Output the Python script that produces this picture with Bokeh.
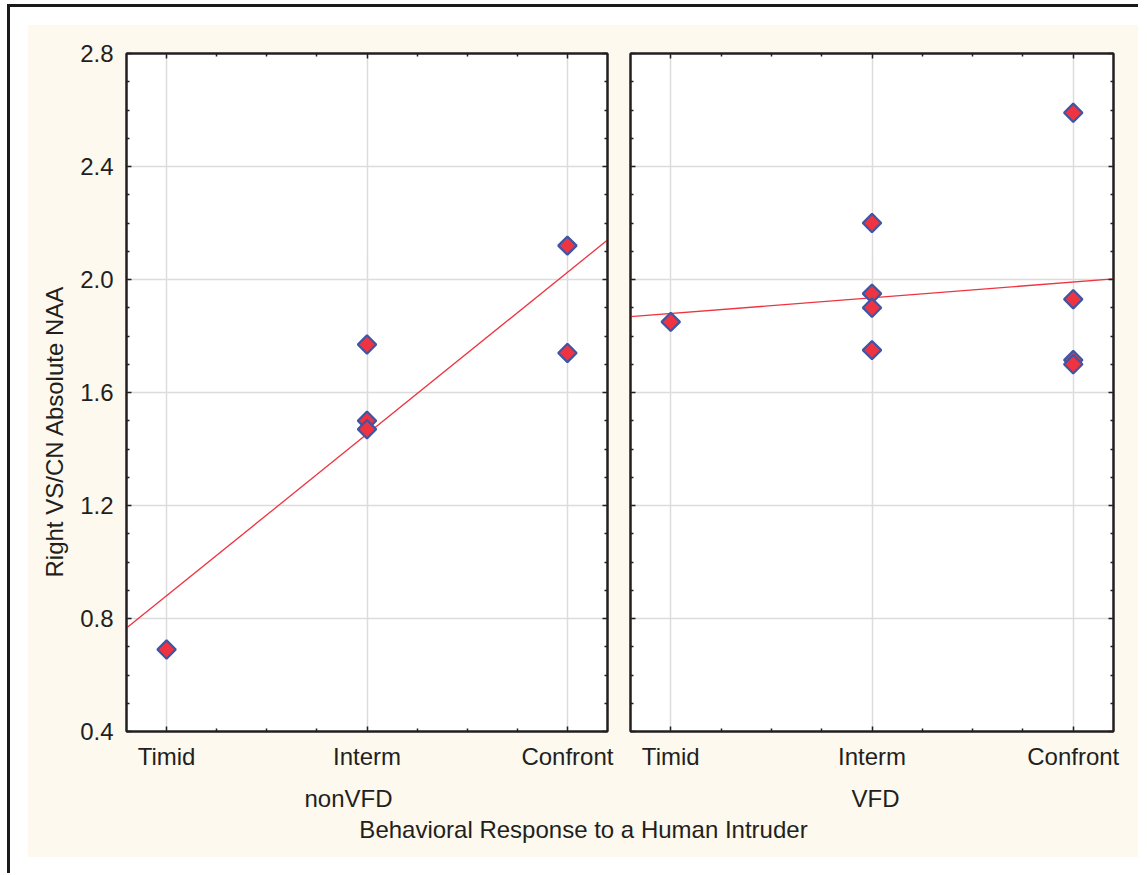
import numpy as np
from bokeh.plotting import figure
from bokeh.models import (FixedTicker, LinearAxis, Title, Range1d, CustomJSTickFormatter,
                          PrintfTickFormatter, Spacer)
from bokeh.layouts import row, column
from bokeh.embed import file_html
from bokeh.resources import INLINE

# ---------------- data ----------------
categories = ["Timid", "Interm", "Confront"]
nonvfd_x = ["Timid", "Interm", "Interm", "Interm", "Confront", "Confront"]
nonvfd_y = [0.69, 1.77, 1.50, 1.47, 2.12, 1.74]
vfd_x = ["Timid", "Interm", "Interm", "Interm", "Interm",
         "Confront", "Confront", "Confront", "Confront"]
vfd_y = [1.85, 2.20, 1.95, 1.90, 1.75, 2.59, 1.93, 1.715, 1.70]
y_ticks = [0.4, 0.8, 1.2, 1.6, 2.0, 2.4, 2.8]
group_labels = ["nonVFD", "VFD"]
x_title = "Behavioral Response to a Human Intruder"
y_title = "Right VS/CN Absolute NAA"

# ---------------- style ----------------
FONT = "Liberation Sans"
FS = "24px"
CREAM = "#fdf9ee"
INK = "#231f20"
RED = "#ee3440"
BLUE = "#3d56a6"
GRID = "#dcdcdc"

cat_pos = [i + 1 for i in range(len(categories))]
x_lo, x_hi = cat_pos[0] - 0.2, cat_pos[-1] + 0.2
x_minor = [a + f * (b - a) for a, b in zip(cat_pos[:-1], cat_pos[1:]) for f in (0.25, 0.5, 0.75)]
y_minor = [a + f * (b - a) for a, b in zip(y_ticks[:-1], y_ticks[1:]) for f in (0.25, 0.5, 0.75)]
blank = CustomJSTickFormatter(code="return ''")


def style_axis(ax, labels=True):
    ax.axis_line_color = INK
    ax.axis_line_width = 2
    ax.major_tick_line_color = INK
    ax.major_tick_line_width = 1.5
    ax.minor_tick_line_color = INK
    ax.minor_tick_line_width = 1.5
    ax.major_tick_in = 5
    ax.major_tick_out = 0
    ax.minor_tick_in = 3
    ax.minor_tick_out = 0
    ax.major_label_text_font = FONT
    ax.major_label_text_font_size = FS
    ax.major_label_text_color = INK
    if not labels:
        ax.formatter = blank
        ax.major_label_standoff = 0


def make_panel(xcat, ys, group, is_left, width, mbl, mbr, group_offset):
    xs = [cat_pos[categories.index(c)] for c in xcat]
    p = figure(width=width, height=801, x_range=Range1d(x_lo, x_hi),
               y_range=Range1d(y_ticks[0], y_ticks[-1]),
               output_backend="svg", toolbar_location=None,
               min_border_left=mbl, min_border_right=mbr,
               min_border_top=28, min_border_bottom=94,
               background_fill_color="white", border_fill_color=CREAM,
               outline_line_color=INK, outline_line_width=2)
    xt = FixedTicker(ticks=cat_pos, minor_ticks=x_minor)
    yt = FixedTicker(ticks=y_ticks, minor_ticks=y_minor)
    p.xaxis.ticker = xt
    p.yaxis.ticker = yt
    p.xaxis.major_label_overrides = {pos: c for pos, c in zip(cat_pos, categories)}
    p.yaxis.formatter = PrintfTickFormatter(format="%.1f")
    style_axis(p.xaxis[0])
    style_axis(p.yaxis[0], labels=is_left)
    p.xaxis.major_label_standoff = 11
    p.yaxis.major_label_standoff = 13 if is_left else 0

    top = LinearAxis(ticker=xt)
    right = LinearAxis(ticker=yt)
    style_axis(top, labels=False)
    style_axis(right, labels=False)
    p.add_layout(top, "above")
    p.add_layout(right, "right")

    p.xgrid.ticker = xt
    p.ygrid.ticker = yt
    for g in (p.xgrid[0], p.ygrid[0]):
        g.grid_line_color = GRID
        g.grid_line_width = 1.5

    # least-squares fit line
    slope, icpt = np.polyfit(xs, ys, 1)
    lx = [x_lo, x_hi]
    p.line(lx, [icpt + slope * v for v in lx], line_color=RED, line_width=1.3)
    p.scatter(xs, ys, marker="square", angle=np.pi / 4, size=13,
              fill_color=RED, line_color=BLUE, line_width=2.2)

    gt = Title(text=group, align="left", offset=group_offset, vertical_align="top",
               standoff=25, text_font=FONT, text_font_size=FS,
               text_font_style="normal", text_color=INK)
    p.add_layout(gt, "below")

    if is_left:
        yt_title = Title(text=y_title, align="left", offset=154, standoff=20,
                         text_font=FONT, text_font_size=FS,
                         text_font_style="normal", text_color=INK)
        p.add_layout(yt_title, "left")
    return p


left = make_panel(nonvfd_x, nonvfd_y, group_labels[0], True, 590, 98, 11, 178)
right = make_panel(vfd_x, vfd_y, group_labels[1], False, 520, 12, 25, 221)

bottom = figure(width=1110, height=44, output_backend="svg", toolbar_location=None,
                x_axis_location=None, y_axis_location=None, min_border=0,
                border_fill_color=CREAM, background_fill_color=CREAM,
                outline_line_color=None, styles={"margin-top": "-13px"})
bottom.xgrid.visible = False
bottom.ygrid.visible = False
bottom.title.text = x_title
bottom.title.align = "center"
bottom.title.text_font = FONT
bottom.title.text_font_size = FS
bottom.title.text_font_style = "normal"
bottom.title.text_color = INK
bottom.title.standoff = 0

panels = row(left, right, styles={"background-color": CREAM})
content = column(panels, bottom, styles={"background-color": CREAM})
layout = row(Spacer(width=18), column(Spacer(height=18), content, Spacer(height=16)),
             styles={"border-left": "3px solid #1a1a1a", "border-top": "3px solid #1a1a1a",
                     "background-color": "white", "margin-left": "7px", "margin-top": "4px"})

open("out.html", "w").write(file_html(layout, INLINE))
